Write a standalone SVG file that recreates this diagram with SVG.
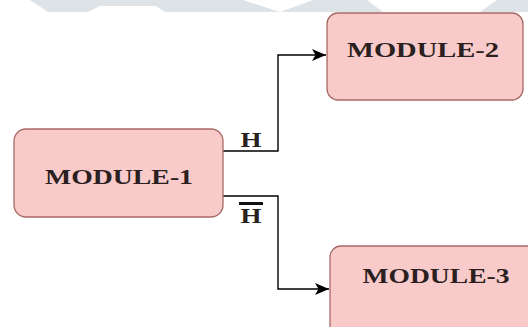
<svg xmlns="http://www.w3.org/2000/svg" width="528" height="327" viewBox="0 0 528 327">
<style>
.box{fill:#f8cbca;stroke:#a86a66;stroke-width:1.3}
.lbl{font-family:"Liberation Serif","Times New Roman",serif;font-weight:bold;font-size:22px;fill:#2b2020;text-anchor:middle}
.wire{fill:none;stroke:#000;stroke-width:1.4}
</style>
<defs>
<marker id="arr" markerUnits="userSpaceOnUse" markerWidth="16" markerHeight="12" refX="14" refY="6" orient="auto">
<path d="M0,0 L14,6 L0,12 L3.5,6 Z" fill="#000"/>
</marker>
</defs>
<g id="watermark">
<rect x="0" y="0" width="528" height="12" fill="#dde3e6"/>
<polygon points="0,0 30,0 48,12 0,12" fill="#fff"/>
<polygon points="88,12 165,12 156,6 100,6" fill="#fff"/>
<polygon points="243,0 313,0 280,12" fill="#fff"/>
<polygon points="367,0 497,0 480,12 383,12" fill="#fff"/>
</g>
<g id="connectors">
<polyline class="wire" points="223,151 278,151 278,55 326,55" marker-end="url(#arr)"/>
<polyline class="wire" points="223,196 278,196 278,289 329,289" marker-end="url(#arr)"/>
</g>
<g id="module-1">
<rect class="box" x="14" y="129" width="209" height="88" rx="12"/>
<text class="lbl" x="119" y="184" textLength="148" lengthAdjust="spacingAndGlyphs">MODULE-1</text>
</g>
<g id="module-2">
<rect class="box" x="327" y="13" width="196" height="87" rx="11"/>
<text class="lbl" x="423" y="57" textLength="152" lengthAdjust="spacingAndGlyphs">MODULE-2</text>
</g>
<g id="module-3">
<rect class="box" x="330" y="246" width="213" height="90" rx="11"/>
<text class="lbl" x="436" y="283" textLength="147" lengthAdjust="spacingAndGlyphs">MODULE-3</text>
</g>
<g id="labels">
<text class="lbl" x="251" y="147" textLength="21" lengthAdjust="spacingAndGlyphs">H</text>
<rect x="239" y="202" width="24" height="3" fill="#111"/>
<text class="lbl" x="251" y="223" textLength="21" lengthAdjust="spacingAndGlyphs">H</text>
</g>
</svg>
